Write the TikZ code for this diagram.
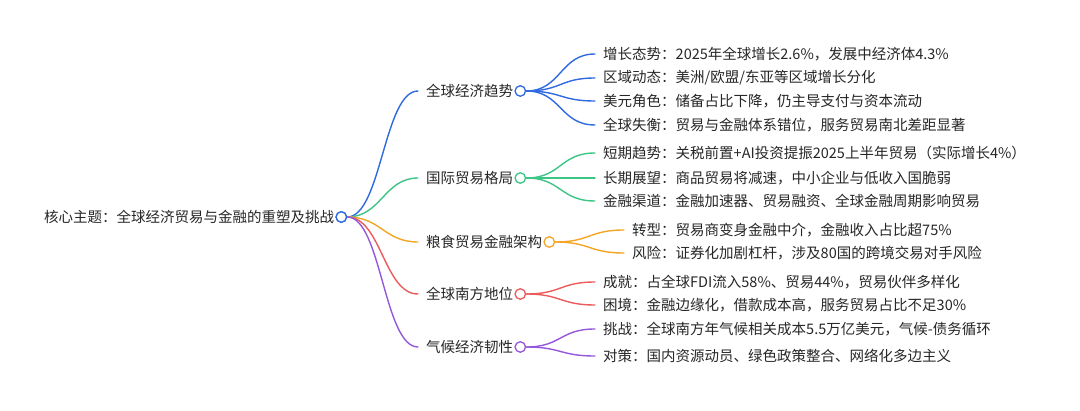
\documentclass[tikz,border=0pt]{standalone}
\usepackage{fontspec}
\newfontfamily\cjk{Noto Sans CJK SC}
\usetikzlibrary{positioning}
\definecolor{mBlue}{HTML}{2F6AE0}
\definecolor{mGreen}{HTML}{3CC585}
\definecolor{mOrange}{HTML}{F5A524}
\definecolor{mRed}{HTML}{EC5B5B}
\definecolor{mPurple}{HTML}{9558DA}
\tikzset{
  txt/.style={anchor=west, inner sep=0pt, text=black!85},
  dot/.style={circle, draw=#1, fill=white, line width=1.3pt, minimum size=10.5pt, inner sep=0pt},
  link/.style={draw=#1, line width=1.4pt}
}
\begin{document}
\begin{tikzpicture}[x=1pt, y=-1pt, line join=round, line cap=round, font=\cjk\fontsize{14.5}{17}\selectfont]
\useasboundingbox (0,0) rectangle (1080,411);
\node[txt] (root) at (44,217) {核心主题：全球经济贸易与金融的重塑及挑战};
\node[dot=mBlue, right=1pt of root] (oroot) {};
\foreach \n/\y/\cl/\cx/\t/\kids in {
  1/91/mBlue/603/{全球经济趋势}/{54/{增长态势：2025年全球增长2.6\%，发展中经济体4.3\%}, 78/{区域动态：美洲/欧盟/东亚等区域增长分化}, 101/{美元角色：储备占比下降，仍主导支付与资本流动}, 125/{全球失衡：贸易与金融体系错位，服务贸易南北差距显著}},
  2/178/mGreen/603/{国际贸易格局}/{153/{短期趋势：关税前置+AI投资提振2025上半年贸易（实际增长4\%）}, 178/{长期展望：商品贸易将减速，中小企业与低收入国脆弱}, 201/{金融渠道：金融加速器、贸易融资、全球金融周期影响贸易}},
  3/242/mOrange/632/{粮食贸易金融架构}/{230/{转型：贸易商变身金融中介，金融收入占比超75\%}, 253/{风险：证券化加剧杠杆，涉及80国的跨境交易对手风险}},
  4/294/mRed/603/{全球南方地位}/{282/{成就：占全球FDI流入58\%、贸易44\%，贸易伙伴多样化}, 305/{困境：金融边缘化，借款成本高，服务贸易占比不足30\%}},
  5/347/mPurple/603/{气候经济韧性}/{329/{挑战：全球南方年气候相关成本5.5万亿美元，气候-债务循环}, 356/{对策：国内资源动员、绿色政策整合、网络化多边主义}}}
{
  \node[txt] (b\n) at (426,\y) {\t};
  \node[dot=\cl, right=1pt of b\n] (ob\n) {};
  \draw[link=\cl] (oroot.east) .. controls +(34,0) and +(-34,0) .. ([xshift=-8pt]b\n.west);
  \foreach \ky/\kt [count=\i] in \kids {
    \node[txt] (c\n\i) at (\cx,\ky) {\kt};
    \draw[link=\cl] (ob\n.east) .. controls +(35,0) and +(-35,0) .. ([xshift=-8pt]c\n\i.west);
  }
}
\node[dot=mBlue] at (oroot) {};
\end{tikzpicture}
\end{document}
